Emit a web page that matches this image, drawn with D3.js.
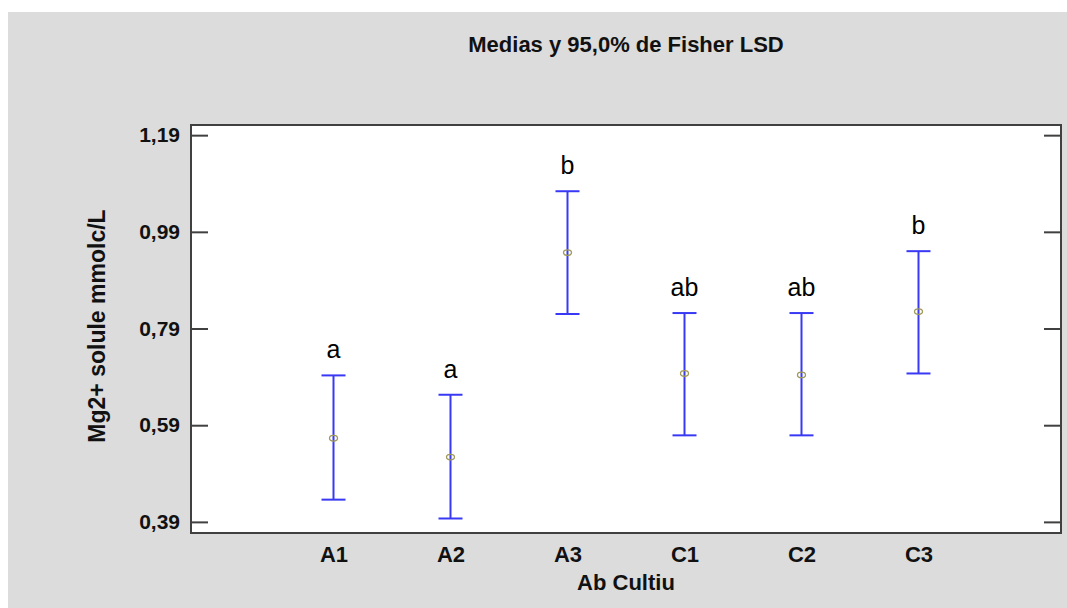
<!DOCTYPE html>
<html>
<head>
<meta charset="utf-8">
<script src="https://cdn.jsdelivr.net/npm/d3@7"></script>
<style>
  body { margin: 0; background: #fff; }
  svg { display: block; }
  text { font-family: Arial, "Liberation Sans", sans-serif; }
</style>
</head>
<body>
<script>
// data
var groups = ['A1', 'A2', 'A3', 'C1', 'C2', 'C3'];
var means = [0.563, 0.524, 0.947, 0.697, 0.694, 0.825];
var lowers = [0.436, 0.397, 0.820, 0.569, 0.569, 0.697];
var uppers = [0.693, 0.653, 1.074, 0.822, 0.822, 0.950];
var letters = ['a', 'a', 'b', 'ab', 'ab', 'b'];
var yTicks = [0.39, 0.59, 0.79, 0.99, 1.19];
var yDomain = [0.367, 1.211];

var width = 1067,
    height = 608,
    plot = { left: 191, right: 1061, top: 125, bottom: 533 };

var svg = d3.select('body').append('svg')
    .attr('width', width)
    .attr('height', height);

// grey panel
svg.append('rect')
    .attr('x', 8).attr('y', 12)
    .attr('width', width - 8).attr('height', height - 12)
    .attr('fill', '#dcdcdc');

// plot area
svg.append('rect')
    .attr('x', plot.left).attr('y', plot.top)
    .attr('width', plot.right - plot.left).attr('height', plot.bottom - plot.top)
    .attr('fill', '#fff');

var x = d3.scalePoint()
    .domain(groups)
    .range([plot.left, plot.right])
    .padding(1.218);

var y = d3.scaleLinear()
    .domain(yDomain)
    .range([plot.bottom, plot.top]);

var locale = d3.formatLocale({ decimal: ',', thousands: '.', grouping: [3], currency: ['', ''] });
var fmt = locale.format('.2f');

// left axis
var gLeft = svg.append('g')
    .attr('transform', 'translate(' + plot.left + ',0)')
    .call(d3.axisLeft(y).tickValues(yTicks).tickFormat(fmt).tickSize(-17).tickPadding(11));
gLeft.select('.domain').remove();
gLeft.selectAll('line').attr('stroke', '#404040').attr('stroke-width', 2);
gLeft.selectAll('text')
    .attr('font-size', 21).attr('font-weight', 'bold').attr('fill', '#111')
    .attr('font-family', 'Arial, "Liberation Sans", sans-serif');

// right axis
var gRight = svg.append('g')
    .attr('transform', 'translate(' + plot.right + ',0)')
    .call(d3.axisRight(y).tickValues(yTicks).tickFormat('').tickSize(-17));
gRight.select('.domain').remove();
gRight.selectAll('line').attr('stroke', '#404040').attr('stroke-width', 2);

// bottom axis
var gBottom = svg.append('g')
    .attr('transform', 'translate(0,' + plot.bottom + ')')
    .call(d3.axisBottom(x).tickSize(0).tickPadding(13));
gBottom.select('.domain').remove();
gBottom.selectAll('text')
    .attr('font-size', 22).attr('font-weight', 'bold').attr('fill', '#111')
    .attr('font-family', 'Arial, "Liberation Sans", sans-serif');

// frame
svg.append('rect')
    .attr('x', plot.left).attr('y', plot.top)
    .attr('width', plot.right - plot.left).attr('height', plot.bottom - plot.top)
    .attr('fill', 'none')
    .attr('stroke', '#404040')
    .attr('stroke-width', 2);

// error bars
var bars = svg.append('g').selectAll('g')
    .data(groups)
    .enter().append('g');

bars.append('line')
    .attr('x1', function (d) { return x(d); })
    .attr('x2', function (d) { return x(d); })
    .attr('y1', function (d, i) { return y(lowers[i]); })
    .attr('y2', function (d, i) { return y(uppers[i]); });

bars.append('line')
    .attr('x1', function (d) { return x(d) - 12; })
    .attr('x2', function (d) { return x(d) + 12; })
    .attr('y1', function (d, i) { return y(uppers[i]); })
    .attr('y2', function (d, i) { return y(uppers[i]); });

bars.append('line')
    .attr('x1', function (d) { return x(d) - 12; })
    .attr('x2', function (d) { return x(d) + 12; })
    .attr('y1', function (d, i) { return y(lowers[i]); })
    .attr('y2', function (d, i) { return y(lowers[i]); });

bars.selectAll('line')
    .attr('stroke', '#3838f5')
    .attr('stroke-width', 2);

// means
bars.append('ellipse')
    .attr('cx', function (d) { return x(d); })
    .attr('cy', function (d, i) { return y(means[i]); })
    .attr('rx', 4)
    .attr('ry', 2.8)
    .attr('fill', 'none')
    .attr('stroke', '#a09a58')
    .attr('stroke-width', 1.3);

// group letters
bars.append('text')
    .attr('x', function (d) { return x(d); })
    .attr('y', function (d, i) { return y(uppers[i]) - 17; })
    .attr('text-anchor', 'middle')
    .attr('font-size', 25)
    .attr('font-family', '"Open Sans", "Noto Sans", sans-serif')
    .attr('fill', '#000')
    .text(function (d, i) { return letters[i]; });

// title and axis titles
svg.append('text')
    .attr('x', 626).attr('y', 52)
    .attr('text-anchor', 'middle')
    .attr('font-size', 22).attr('font-weight', 'bold').attr('fill', '#111')
    .text('Medias y 95,0% de Fisher LSD');

svg.append('text')
    .attr('x', 626).attr('y', 590)
    .attr('text-anchor', 'middle')
    .attr('font-size', 22).attr('font-weight', 'bold').attr('fill', '#111')
    .text('Ab Cultiu');

svg.append('text')
    .attr('transform', 'translate(105,326) rotate(-90)')
    .attr('text-anchor', 'middle')
    .attr('font-size', 23).attr('font-weight', 'bold').attr('fill', '#111')
    .text('Mg2+ solule mmolc/L');
</script>
</body>
</html>
